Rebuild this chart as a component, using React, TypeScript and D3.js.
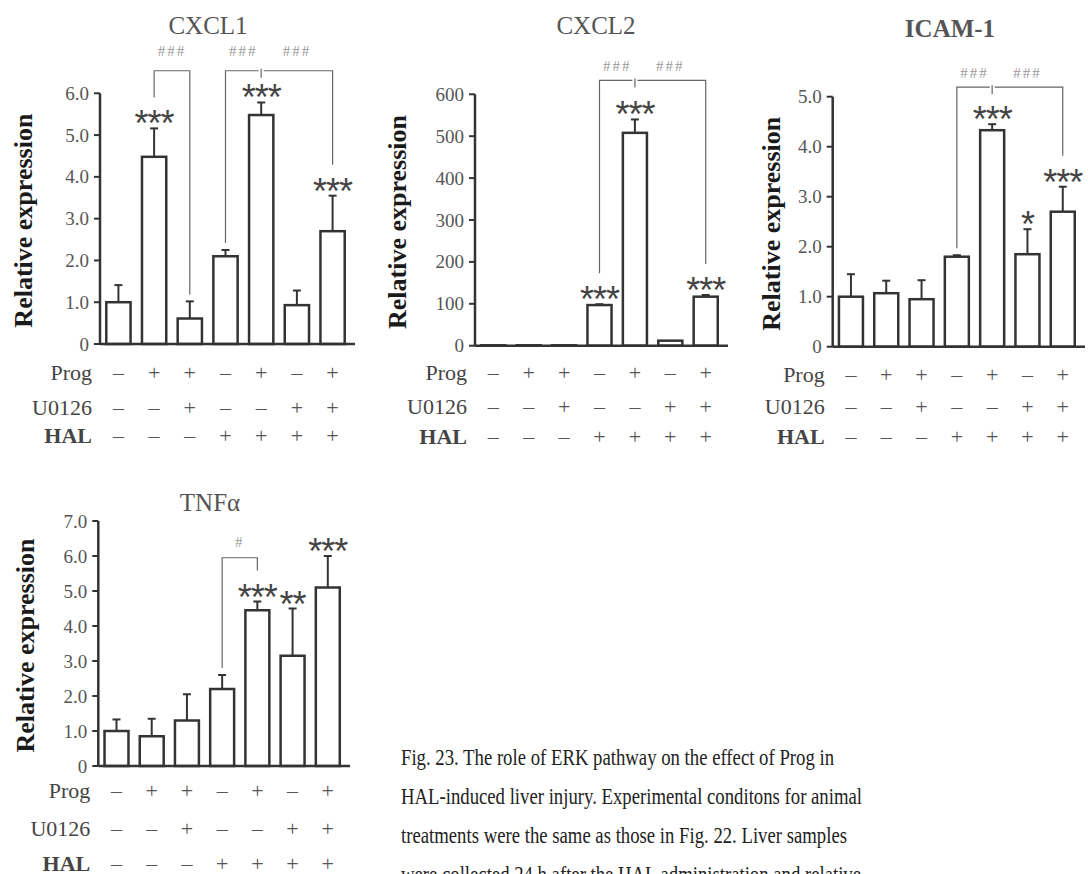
import * as d3 from "d3";

const conditions = ["g1", "g2", "g3", "g4", "g5", "g6", "g7"];
const rowLabels = ["Prog", "U0126", "HAL"];
const progRow = ["–", "+", "+", "–", "+", "–", "+"];
const u0126Row = ["–", "–", "+", "–", "–", "+", "+"];
const halRow = ["–", "–", "–", "+", "+", "+", "+"];

const cxcl1Mean = [1.0, 4.48, 0.61, 2.1, 5.48, 0.93, 2.7];
const cxcl1Err = [0.41, 0.68, 0.41, 0.15, 0.3, 0.35, 0.85];
const cxcl1Stars = ["", "***", "", "", "***", "", "***"];
const cxcl1Ticks = [0, 1, 2, 3, 4, 5, 6];

const cxcl2Mean = [1, 1, 1, 97, 508, 12, 117];
const cxcl2Err = [0, 0, 0, 2, 32, 0, 4];
const cxcl2Stars = ["", "", "", "***", "***", "", "***"];
const cxcl2Ticks = [0, 100, 200, 300, 400, 500, 600];

const icamMean = [1.0, 1.07, 0.95, 1.8, 4.33, 1.85, 2.7];
const icamErr = [0.45, 0.25, 0.38, 0.03, 0.12, 0.5, 0.5];
const icamStars = ["", "", "", "", "***", "*", "***"];
const icamTicks = [0, 1, 2, 3, 4, 5];

const tnfMean = [1.0, 0.85, 1.3, 2.2, 4.45, 3.15, 5.1];
const tnfErr = [0.33, 0.5, 0.75, 0.4, 0.25, 1.35, 0.9];
const tnfStars = ["", "", "", "", "***", "**", "***"];
const tnfTicks = [0, 1, 2, 3, 4, 5, 6, 7];

// brackets: [from, to, label]
const cxcl1Brackets = [[1, 2, "###"], [3, 4, "###"], [4, 6, "###"]];
const cxcl2Brackets = [[3, 4, "###"], [4, 6, "###"]];
const icamBrackets = [[3, 4, "###"], [4, 6, "###"]];
const tnfBrackets = [[3, 4, "#"]];

const captionLines = [
  "Fig. 23. The role of ERK pathway on the effect of Prog in",
  "HAL-induced liver injury. Experimental conditons for animal",
  "treatments were the same as those in Fig. 22. Liver samples",
  "were collected 24 h after the HAL administration and relative",
];

const serif = "'Liberation Serif', 'Times New Roman', serif";
const dec = (v) => (v === 0 ? "0" : d3.format(".1f")(v));
const int = d3.format("d");

function Panel({ title, mean, err, stars, brackets, ticks, fmt, level, lay }) {
  const x = d3
    .scaleBand()
    .domain(conditions)
    .range([lay.left + 2, lay.right - 6])
    .paddingInner(0.32)
    .paddingOuter(0.12);
  const y = d3
    .scaleLinear()
    .domain([0, ticks[ticks.length - 1]])
    .range([lay.base, lay.top]);
  const cx = (i) => x(conditions[i]) + x.bandwidth() / 2;
  const errTop = (i) => y(mean[i] + err[i]);
  const starY = (i) => errTop(i) - 13;
  const legEnd = (i) => (stars[i] ? starY(i) - 18 : errTop(i) - 7);

  const count = {};
  brackets.forEach(([a, b]) => {
    count[a] = (count[a] || 0) + 1;
    count[b] = (count[b] || 0) + 1;
  });
  const shared = Object.keys(count).filter((k) => count[k] > 1).map(Number);
  const yb = y(level);
  const rows = [progRow, u0126Row, halRow];

  return (
    <g>
      <text x={lay.titleX} y={lay.titleY} textAnchor="middle" dominantBaseline="central"
        fontFamily={serif} fontSize={25} fill="#555" fontWeight={lay.titleBold ? "bold" : "normal"}>
        {title}
      </text>
      <text transform={`translate(${lay.labelX},${(lay.top + lay.base) / 2 + 2}) rotate(-90)`}
        textAnchor="middle" dominantBaseline="central" fontFamily={serif} fontSize={26}
        fontWeight="bold" fill="#1a1a1a">
        Relative expression
      </text>
      {ticks.map((t) => (
        <g key={t}>
          <line x1={lay.left - 6} x2={lay.left} y1={y(t)} y2={y(t)} stroke="#333" strokeWidth={2} />
          <text x={lay.left - 11} y={y(t)} textAnchor="end" dominantBaseline="central"
            fontFamily={serif} fontSize={19} fill="#555">
            {fmt(t)}
          </text>
        </g>
      ))}
      {mean.map((m, i) => (
        <g key={i}>
          {err[i] > 0 && (
            <g stroke="#333" strokeWidth={2}>
              <line x1={cx(i)} x2={cx(i)} y1={y(m)} y2={errTop(i)} />
              <line x1={cx(i) - 4} x2={cx(i) + 4} y1={errTop(i)} y2={errTop(i)} />
            </g>
          )}
          <rect x={x(conditions[i])} width={x.bandwidth()} y={y(m)} height={lay.base - y(m)}
            fill="#fff" stroke="#333" strokeWidth={2.5} />
          {stars[i] && (
            <text x={cx(i)} y={starY(i) + 21} textAnchor="middle" fontFamily="'Liberation Sans', Arial, sans-serif"
              fontSize={36} fill="#444" letterSpacing={-1}>
              {stars[i]}
            </text>
          )}
        </g>
      ))}
      <line x1={lay.left} x2={lay.left} y1={lay.top} y2={lay.base} stroke="#333" strokeWidth={2.5} />
      <line x1={lay.left} x2={lay.right} y1={lay.base} y2={lay.base} stroke="#333" strokeWidth={2.5} />
      {brackets.map(([a, b, label], k) => {
        const sa = shared.includes(a);
        const sb = shared.includes(b);
        const x1 = cx(a) + (sa ? 2.5 : 0);
        const x2 = cx(b) - (sb ? 2.5 : 0);
        let d = sa ? `M${x1},${yb}` : `M${x1},${legEnd(a)}V${yb}`;
        d += `H${x2}`;
        if (!sb) d += `V${legEnd(b)}`;
        return (
          <g key={k}>
            <path d={d} fill="none" stroke="#666" strokeWidth={1.2} />
            <text x={(cx(a) + cx(b)) / 2} y={yb - lay.hashOff} textAnchor="middle" dominantBaseline="central"
              fontFamily={serif} fontSize={15} fill="#999" letterSpacing={2}>
              {label}
            </text>
          </g>
        );
      })}
      {shared.map((i) => (
        <line key={i} x1={cx(i)} x2={cx(i)} y1={yb - 2} y2={yb + 7} stroke="#666" strokeWidth={1.2} />
      ))}
      {rows.map((row, r) => (
        <g key={r}>
          <text x={lay.left - 8} y={lay.base + lay.rows[r]} textAnchor="end" dominantBaseline="central"
            fontFamily={serif} fontSize={22} fill="#444" fontWeight={r === 2 ? "bold" : "normal"}>
            {rowLabels[r]}
          </text>
          {row.map((s, i) => (
            <text key={i} x={cx(i)} y={lay.base + lay.rows[r]} textAnchor="middle" dominantBaseline="central"
              fontFamily={serif} fontSize={22} fill="#555">
              {s}
            </text>
          ))}
        </g>
      ))}
    </g>
  );
}

const layCxcl1 = { left: 100, right: 355, top: 93.3, base: 344, labelX: 23, titleX: 208, titleY: 25, hashOff: 20, rows: [28, 63, 91] };
const layCxcl2 = { left: 475, right: 728, top: 94.3, base: 345.7, labelX: 397, titleX: 596, titleY: 25, hashOff: 14, rows: [27, 61, 91] };
const layIcam = { left: 832.7, right: 1085, top: 96.7, base: 346.7, labelX: 771, titleX: 950, titleY: 28, hashOff: 14, titleBold: true, rows: [28, 60, 90] };
const layTnf = { left: 98.3, right: 350, top: 521, base: 766, labelX: 25, titleX: 210, titleY: 502, hashOff: 16, rows: [24, 62, 97] };

export default function App() {
  const capWidths = [433, 461, 446, 460];
  return (
    <svg width={1088} height={874} style={{ position: "absolute", left: 0, top: 0, background: "#fff" }}>
      <rect width={1088} height={874} fill="#fff" />
      <Panel title="CXCL1" mean={cxcl1Mean} err={cxcl1Err} stars={cxcl1Stars} brackets={cxcl1Brackets}
        ticks={cxcl1Ticks} fmt={dec} level={6.54} lay={layCxcl1} />
      <Panel title="CXCL2" mean={cxcl2Mean} err={cxcl2Err} stars={cxcl2Stars} brackets={cxcl2Brackets}
        ticks={cxcl2Ticks} fmt={int} level={633} lay={layCxcl2} />
      <Panel title="ICAM-1" mean={icamMean} err={icamErr} stars={icamStars} brackets={icamBrackets}
        ticks={icamTicks} fmt={dec} level={5.19} lay={layIcam} />
      <Panel title="TNFα" mean={tnfMean} err={tnfErr} stars={tnfStars} brackets={tnfBrackets}
        ticks={tnfTicks} fmt={dec} level={5.95} lay={layTnf} />
      {captionLines.map((line, i) => (
        <text key={i} x={401} y={765 + i * 39} fontFamily={serif} fontSize={23} fill="#222"
          textLength={capWidths[i]} lengthAdjust="spacingAndGlyphs">
          {line}
        </text>
      ))}
    </svg>
  );
}
